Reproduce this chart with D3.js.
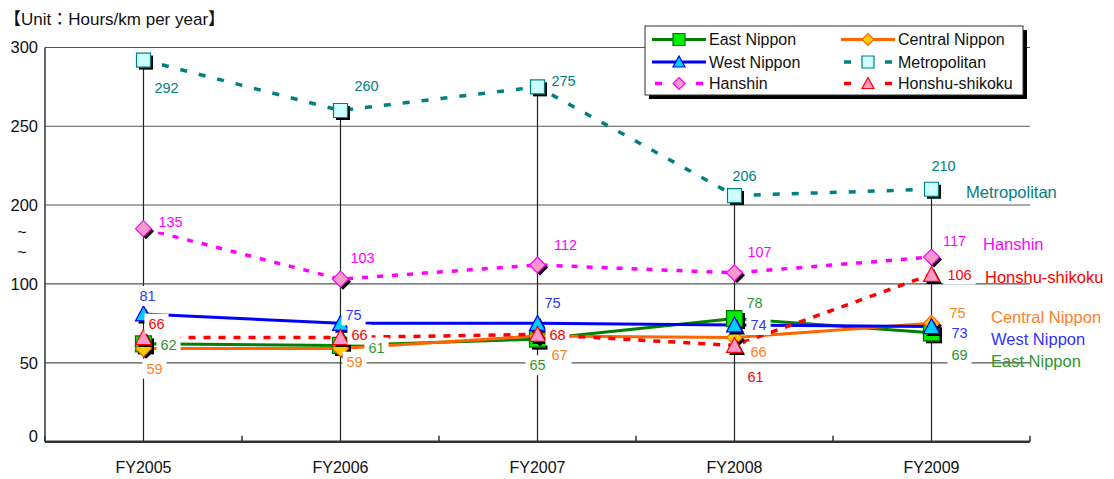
<!DOCTYPE html>
<html>
  <head>
    <style>
      body { margin: 0; background: #fff; }
      svg text { font-family: "Liberation Sans", "Noto Sans CJK JP", sans-serif; }
    </style>
  </head>
  <body>
    <svg id="chart" width="1114" height="479"></svg>

    <script src="https://cdnjs.cloudflare.com/ajax/libs/d3/7.8.5/d3.min.js"></script>
    <script type="text/javascript">
      const categories = ["FY2005", "FY2006", "FY2007", "FY2008", "FY2009"];
      const yTicks = [0, 50, 100, 200, 250, 300];

      const seriesNames = ["East Nippon", "Central Nippon", "West Nippon", "Metropolitan", "Hanshin", "Honshu-shikoku"];
      const eastNippon = [62, 61, 65, 78, 69];
      const centralNippon = [59, 59, 67, 66, 75];
      const westNippon = [81, 75, 75, 74, 73];
      const metropolitan = [292, 260, 275, 206, 210];
      const hanshin = [135, 103, 112, 107, 117];
      const honshuShikoku = [66, 66, 68, 61, 106];

      // styling + where each data label sits relative to its point
      const styles = [
        { line: "#008000", text: "#2e962e", fill: "#00ee00", stroke: "#007000", shape: "square", size: 8, dash: null,
          lab: [[25, 1], [36, 2], [0, 26], [20, -16], [28, 22]], end: [991, 361] },
        { line: "#ff6600", text: "#ff7f27", fill: "#ffcc00", stroke: "#ff6600", shape: "diamond", size: 8, dash: null,
          lab: [[11, 20], [14, 13], [22, 19], [24, 14], [26, -10]], end: [991, 317] },
        { line: "#0000ff", text: "#3333ff", fill: "#00ccff", stroke: "#0000ff", shape: "triangle", size: 8, dash: null,
          lab: [[4, -18], [13, -8], [15, -20], [24, 0], [28, 6]], end: [991, 339] },
        { line: "#008080", text: "#008080", fill: "#ccffff", stroke: "#008080", shape: "square", size: 7, dash: "7,12",
          lab: [[23, 28], [26, -25], [26, -6], [10, -20], [12, -23]], end: [966, 192] },
        { line: "#ff00ff", text: "#ff00ff", fill: "#ff99cc", stroke: "#ff00ff", shape: "diamond", size: 8, dash: "6,9",
          lab: [[27, -7], [22, -21], [28, -20], [25, -21], [23, -16]], end: [983, 244] },
        { line: "#ff0000", text: "#ff0000", fill: "#ff99cc", stroke: "#ff0000", shape: "triangle", size: 8, dash: "7,8",
          lab: [[13, -14], [19, -3], [20, 1], [21, 31], [28, 0]], end: [985, 277] }
      ];

      const allValues = [eastNippon, centralNippon, westNippon, metropolitan, hanshin, honshuShikoku];
      const series = seriesNames.map((name, i) => ({ name, values: allValues[i], st: styles[i] }));

      const svg = d3.select("#chart");
      const left = 45, right = 1030;

      const x = d3.scaleBand().domain(categories).range([left, right]);
      const cx = c => x(c) + x.bandwidth() / 2;
      // broken axis: 150..200 collapsed
      const y = d3.scaleLinear().domain([0, 150, 200, 300]).range([441.7, 205, 205, 47.5]);

      function shapePath(shape, s) {
        if (shape === "square") return `M${-s},${-s}H${s}V${s}H${-s}Z`;
        if (shape === "diamond") return `M0,${-s}L${s},0L0,${s}L${-s},0Z`;
        return `M0,${-s}L${s},${s - 1}L${-s},${s - 1}Z`;
      }

      // title
      svg.append("text").attr("x", 4).attr("y", 25).attr("font-size", 17).attr("fill", "#111")
        .text("【Unit：Hours/km per year】");

      // grid
      svg.append("g").selectAll("line").data(yTicks.filter(d => d > 0)).join("line")
        .attr("x1", left).attr("x2", right).attr("y1", d => y(d)).attr("y2", d => y(d))
        .attr("stroke", "#555").attr("stroke-width", 1.2);

      svg.append("g").selectAll("text").data(yTicks).join("text")
        .attr("x", 38).attr("y", d => y(d) + (d === 0 ? -5 : 0)).attr("dy", "0.35em")
        .attr("text-anchor", "end").attr("font-size", 16.5).attr("fill", "#111").text(d => d);

      // axis break mark
      svg.append("text").attr("x", 22).attr("y", 232).attr("dy", "0.35em").attr("text-anchor", "middle")
        .attr("font-size", 16).attr("fill", "#111").text("~");
      svg.append("text").attr("x", 22).attr("y", 252).attr("dy", "0.35em").attr("text-anchor", "middle")
        .attr("font-size", 16).attr("fill", "#111").text("~");

      // drop lines from highest point
      svg.append("g").selectAll("line").data(categories).join("line")
        .attr("x1", cx).attr("x2", cx)
        .attr("y1", (c, i) => y(d3.max(series, s => s.values[i])))
        .attr("y2", y(0)).attr("stroke", "#222").attr("stroke-width", 1.2);

      // axes
      svg.append("line").attr("x1", left).attr("x2", left).attr("y1", y(300)).attr("y2", y(0))
        .attr("stroke", "#333").attr("stroke-width", 1.5);
      svg.append("line").attr("x1", left).attr("x2", right).attr("y1", y(0)).attr("y2", y(0))
        .attr("stroke", "#333").attr("stroke-width", 2.5);
      svg.append("g").selectAll("line").data(d3.range(categories.length + 1)).join("line")
        .attr("x1", i => left + i * x.bandwidth()).attr("x2", i => left + i * x.bandwidth())
        .attr("y1", y(0) - 6).attr("y2", y(0)).attr("stroke", "#333").attr("stroke-width", 1.5);
      svg.append("g").selectAll("text").data(categories).join("text")
        .attr("x", cx).attr("y", 467).attr("dy", "0.35em").attr("text-anchor", "middle")
        .attr("font-size", 16).attr("fill", "#111").text(d => d);

      // lines
      const line = d3.line().x((d, i) => cx(categories[i])).y(d => y(d));
      svg.append("g").selectAll("path").data(series).join("path")
        .attr("d", s => line(s.values)).attr("fill", "none")
        .attr("stroke", s => s.st.line).attr("stroke-width", s => s.st.dash ? 3.5 : 3)
        .attr("stroke-dasharray", s => s.st.dash);

      // markers with shadow
      series.forEach(s => {
        const g = svg.append("g");
        s.values.forEach((v, i) => {
          const p = shapePath(s.st.shape, s.st.size);
          g.append("path").attr("d", p).attr("fill", "#000")
            .attr("transform", `translate(${cx(categories[i]) + 2.5},${y(v) + 2.5})`);
          g.append("path").attr("d", p).attr("fill", s.st.fill).attr("stroke", s.st.stroke).attr("stroke-width", 1.2)
            .attr("transform", `translate(${cx(categories[i])},${y(v)})`);
        });
      });

      // data labels with white boxes
      series.forEach(s => {
        s.values.forEach((v, i) => {
          const lx = cx(categories[i]) + s.st.lab[i][0];
          const ly = y(v) + s.st.lab[i][1];
          const g = svg.append("g");
          const t = g.append("text").attr("x", lx).attr("y", ly).attr("dy", "0.35em")
            .attr("text-anchor", "middle").attr("font-size", 14.5).attr("fill", s.st.text).text(v);
          const b = t.node().getBBox();
          g.insert("rect", "text").attr("x", b.x - 4).attr("y", b.y - 2)
            .attr("width", b.width + 8).attr("height", b.height + 4).attr("fill", "#fff");
        });
        svg.append("text").attr("x", s.st.end[0]).attr("y", s.st.end[1]).attr("dy", "0.35em")
          .attr("font-size", 16.5).attr("fill", s.st.text).text(s.name);
      });

      // legend
      const lg = svg.append("g");
      lg.append("rect").attr("x", 649).attr("y", 30).attr("width", 378).attr("height", 69).attr("fill", "#000");
      lg.append("rect").attr("x", 645).attr("y", 26).attr("width", 378).attr("height", 69)
        .attr("fill", "#fff").attr("stroke", "#333").attr("stroke-width", 1);
      const legendCols = [652, 841];
      const legendRows = [39.5, 62, 83.5];
      series.forEach((s, i) => {
        const lx = legendCols[i % 2], ly = legendRows[Math.floor(i / 2)];
        const e = lg.append("g").attr("transform", `translate(${lx},${ly})`);
        if (s.st.dash) {
          e.append("line").attr("x1", 3).attr("x2", 10).attr("stroke", s.st.line).attr("stroke-width", 3.5);
          e.append("line").attr("x1", 44).attr("x2", 51).attr("stroke", s.st.line).attr("stroke-width", 3.5);
        } else {
          e.append("line").attr("x1", 0).attr("x2", 54).attr("stroke", s.st.line).attr("stroke-width", 3);
        }
        e.append("path").attr("d", shapePath(s.st.shape, 6)).attr("transform", "translate(27,0)")
          .attr("fill", s.st.fill).attr("stroke", s.st.stroke).attr("stroke-width", 1.2);
        e.append("text").attr("x", 57).attr("dy", "0.35em").attr("font-size", 16).attr("fill", "#111").text(s.name);
      });
    </script>
  </body>
</html>
